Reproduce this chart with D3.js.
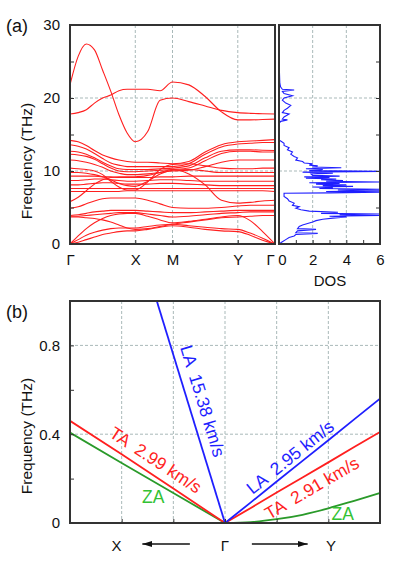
<!DOCTYPE html>
<html>
<head>
<meta charset="utf-8">
<script src="https://cdn.jsdelivr.net/npm/d3@7"></script>
<style>
  body { margin: 0; background: #fff; }
  svg { font-family: "Liberation Sans", Arial, sans-serif; }
</style>
</head>
<body>
<script>
// ---- panel (a): phonon bands along Γ-X-M-Y-Γ ----
const kPoints = [0, 0.125, 0.25, 0.375, 0.5, 0.625, 0.75, 0.875, 1, 1.19, 1.38, 1.57, 1.82, 2.07, 2.32, 2.57, 2.76, 2.95, 3.14];
const kTicks = [0, 1, 1.57, 2.57, 3.14];
const kTickLabels = ["Γ", "X", "M", "Y", "Γ"];

const bands = [
  [21.8, 25.7, 27.4, 26.6, 23.8, 20.9, 17.7, 15.2, 14.0, 15.4, 19.7, 20.0, 19.5, 18.9, 18.3, 18.0, 17.9, 17.85, 17.8],
  [17.8, 18.0, 18.4, 19.3, 20.0, 20.4, 21.0, 21.2, 21.2, 21.2, 21.0, 22.2, 21.8, 20.2, 18.1, 17.0, 17.0, 17.05, 17.1],
  [14.2, 14.0, 13.5, 12.8, 12.2, 11.8, 11.5, 11.3, 11.2, 11.2, 11.1, 11.0, 11.3, 12.6, 13.6, 14.0, 14.1, 14.2, 14.3],
  [13.6, 13.4, 13.0, 12.4, 11.7, 11.1, 10.8, 10.6, 10.6, 10.6, 10.6, 10.6, 11.0, 12.3, 13.3, 13.7, 13.8, 13.9, 13.9],
  [12.7, 12.6, 12.3, 11.8, 11.2, 10.7, 10.3, 10.2, 10.2, 10.2, 10.3, 10.4, 10.7, 11.8, 12.7, 12.9, 12.9, 12.85, 12.8],
  [12.3, 12.2, 12.0, 11.6, 11.0, 10.4, 10.0, 9.9, 9.9, 10.0, 10.1, 10.2, 10.4, 11.4, 12.4, 12.7, 12.7, 12.6, 12.6],
  [11.5, 11.4, 11.2, 10.9, 10.5, 10.0, 9.7, 9.5, 9.5, 9.6, 9.8, 10.0, 10.1, 10.6, 11.2, 11.5, 11.5, 11.5, 11.5],
  [10.4, 10.3, 10.2, 10.0, 9.5, 8.6, 7.8, 7.4, 7.4, 8.5, 10.2, 10.9, 11.0, 10.7, 10.4, 10.3, 10.3, 10.4, 10.4],
  [9.8, 9.8, 9.7, 9.5, 9.2, 8.8, 8.3, 8.0, 7.9, 8.6, 9.6, 10.1, 10.2, 10.0, 9.8, 9.8, 9.8, 9.8, 9.8],
  [9.3, 9.3, 9.3, 9.3, 9.2, 9.2, 9.1, 9.1, 9.1, 9.1, 9.2, 9.2, 9.3, 9.3, 9.3, 9.3, 9.3, 9.3, 9.3],
  [8.7, 8.7, 8.8, 8.9, 8.9, 8.8, 8.7, 8.6, 8.6, 8.7, 8.8, 8.8, 8.7, 8.6, 8.6, 8.6, 8.6, 8.6, 8.6],
  [8.1, 8.1, 8.2, 8.3, 8.4, 8.4, 8.3, 8.2, 8.2, 8.2, 8.3, 8.3, 8.2, 8.1, 8.0, 8.0, 8.0, 8.0, 8.0],
  [7.6, 7.6, 7.6, 7.6, 7.6, 7.6, 7.6, 7.6, 7.6, 7.6, 7.6, 7.6, 7.6, 7.6, 7.6, 7.6, 7.6, 7.6, 7.6],
  [7.2, 7.2, 7.2, 7.2, 7.2, 7.2, 7.2, 7.3, 7.3, 7.3, 7.3, 7.3, 7.3, 7.3, 7.3, 7.3, 7.3, 7.3, 7.2],
  [5.8, 6.4, 7.3, 8.2, 8.8, 9.1, 9.2, 9.2, 9.2, 9.4, 9.8, 10.2, 9.6, 8.1, 6.0, 5.6, 5.7, 5.9, 6.0],
  [4.9, 5.1, 5.5, 5.9, 6.2, 6.3, 6.3, 6.3, 6.3, 6.0, 5.5, 5.0, 4.9, 4.9, 5.0, 5.2, 5.3, 5.3, 5.3],
  [3.9, 4.0, 4.2, 4.4, 4.5, 4.6, 4.6, 4.6, 4.6, 4.5, 4.4, 4.3, 4.3, 4.4, 4.5, 4.6, 4.6, 4.6, 4.6],
  [3.8, 3.8, 3.9, 4.0, 4.1, 4.2, 4.3, 4.3, 4.3, 4.1, 3.9, 3.7, 3.8, 4.0, 4.2, 4.3, 4.4, 4.4, 4.4],
  [3.7, 3.7, 3.6, 3.5, 3.3, 3.0, 2.6, 2.2, 2.0, 2.1, 2.4, 2.7, 3.0, 3.3, 3.6, 3.7, 3.8, 3.9, 3.9],
  [0, 1.1, 2.1, 2.9, 3.5, 3.9, 4.1, 4.2, 4.2, 3.8, 3.3, 2.9, 3.1, 3.4, 3.7, 3.9, 3.2, 1.7, 0],
  [0, 0.6, 1.2, 1.6, 1.9, 2.1, 2.2, 2.2, 2.2, 2.4, 2.6, 2.7, 2.5, 2.3, 2.1, 2.0, 1.5, 0.8, 0],
  [0, 0.25, 0.6, 0.95, 1.3, 1.5, 1.7, 1.8, 1.8, 2.0, 2.3, 2.5, 2.3, 2.0, 1.8, 1.7, 1.2, 0.5, 0]
];

// density of states (frequency in THz, DOS)
const dosFreq = [0, 0.3, 0.6, 0.9, 1.1, 1.3, 1.45, 1.55, 1.8, 2.0, 2.1, 2.4, 2.6, 2.8, 3.0, 3.2, 3.4, 3.55, 3.7, 3.8,
  3.9, 4.0, 4.1, 4.2, 4.35, 4.5, 4.7, 4.9, 5.1, 5.3, 5.6, 5.9, 6.2, 6.5, 6.8, 6.95, 7.0, 7.1, 7.2, 7.3,
  7.4, 7.5, 7.6, 7.7, 7.8, 7.9, 8.0, 8.1, 8.2, 8.3, 8.4, 8.5, 8.6, 8.7, 8.8, 8.9, 9.0, 9.1, 9.2, 9.3,
  9.4, 9.6, 9.7, 9.85, 9.95, 10.05, 10.2, 10.3, 10.45, 10.55, 10.7, 10.8, 11.0, 11.1, 11.3, 11.5, 11.8, 12.0, 12.3, 12.6,
  12.9, 13.2, 13.5, 13.8, 14.1, 14.3, 15.0, 16.5, 16.8, 17.0, 17.1, 17.4, 17.8, 18.0, 18.3, 18.6, 19.0, 19.3, 19.7, 20.0,
  20.3, 20.6, 20.9, 21.1, 21.2, 21.5, 22.0, 24.0, 26.5];
const dosVal = [0, 0.2, 0.4, 0.6, 0.9, 1.0, 2.3, 1.0, 1.1, 2.2, 1.1, 1.2, 1.4, 1.7, 2.0, 2.2, 2.6, 3.2, 4.0, 3.0,
  6.0, 3.6, 6.0, 2.5, 3.5, 1.8, 1.3, 1.0, 1.2, 0.8, 0.9, 0.6, 0.5, 0.3, 0.3, 0.3, 3.0, 6.0, 2.8, 6.0,
  3.5, 6.0, 2.4, 3.2, 2.0, 4.4, 2.6, 4.0, 2.2, 3.6, 1.8, 6.0, 2.8, 3.8, 2.5, 3.4, 1.6, 3.0, 1.5, 3.6,
  2.0, 1.9, 3.2, 1.4, 6.0, 1.8, 2.6, 1.6, 3.7, 2.0, 2.3, 1.8, 2.0, 1.5, 1.4, 1.0, 1.1, 0.9, 0.7, 0.8,
  0.5, 0.6, 0.3, 0.3, 0.1, 0.0, 0.0, 0.0, 0.1, 0.5, 0.2, 0.3, 0.6, 0.2, 0.3, 0.5, 0.7, 0.4, 0.2, 0.3,
  0.8, 0.3, 0.2, 0.9, 0.2, 0.1, 0.05, 0.02, 0.0];

// ---- panel (b): acoustic branches near Γ ----
const kLeft = [-3, -2, -1, 0];
const taLeft = [0.46, 0.31, 0.155, 0];
const zaLeft = [0.407, 0.27, 0.135, 0];
const kLaLeft = [-1.32, 0];
const laLeft = [1.0, 0];
const kRight = [0, 0.5, 1, 1.5, 2, 2.5, 3];
const laRight = [0, 0.093, 0.187, 0.28, 0.373, 0.467, 0.56];
const taRight = [0, 0.068, 0.137, 0.205, 0.273, 0.342, 0.41];
const zaRight = [0, 0.004, 0.017, 0.037, 0.066, 0.1, 0.135];
const bYTicks = [0, 0.2, 0.4, 0.6, 0.8, 1.0];
const bYLabels = ["0", "", "0.4", "", "0.8", ""];
const bKLabels = ["X", "Γ", "Y"];
const bKLabelPos = [-2.1, 0, 2.05];

const RED = "#ff1f1f", BLUE = "#1f1fff", GREEN = "#2a9a2a", GREEN_TXT = "#33c233";
const GRID = "#a9b9b9", FRAME = "#333";

const svg = d3.select("body").append("svg").attr("width", 399).attr("height", 570);

// scales
const xBand = d3.scaleLinear().domain([0, 3.14]).range([70, 275]);
const yA = d3.scaleLinear().domain([0, 30]).range([244, 25]);
const xDos = d3.scaleLinear().domain([0, 6]).range([279, 380]);
const xB = d3.scaleLinear().domain([-3, 3]).range([70, 380]);
const yB = d3.scaleLinear().domain([0, 1]).range([523, 301]);

function styleAxis(g, size) {
  g.select(".domain").remove();
  g.selectAll(".tick line").attr("stroke", FRAME);
  g.attr("font-size", size).attr("font-family", "Liberation Sans, Arial, sans-serif").attr("fill", "#111");
  g.selectAll(".tick text").attr("fill", "#111");
}

function clip(id, x0, y0, x1, y1) {
  svg.append("clipPath").attr("id", id).append("rect")
    .attr("x", x0).attr("y", y0).attr("width", x1 - x0).attr("height", y1 - y0);
}

// ---------- panel (a) ----------
clip("clipBand", 70, 25, 275, 244);
clip("clipDos", 279, 25, 380, 244);

// grid
const gridA = svg.append("g").attr("stroke", GRID).attr("stroke-dasharray", "3,2").attr("stroke-width", 1);
[10, 20].forEach(f => {
  gridA.append("line").attr("x1", 70).attr("x2", 275).attr("y1", yA(f)).attr("y2", yA(f));
  gridA.append("line").attr("x1", 279).attr("x2", 380).attr("y1", yA(f)).attr("y2", yA(f));
});
kTicks.slice(1, 4).forEach(k => {
  gridA.append("line").attr("x1", xBand(k)).attr("x2", xBand(k)).attr("y1", 25).attr("y2", 244);
});
[2, 4].forEach(d => {
  gridA.append("line").attr("x1", xDos(d)).attr("x2", xDos(d)).attr("y1", 25).attr("y2", 244);
});

// bands
const bandLine = d3.line()
  .x((d, i) => xBand(kPoints[i]))
  .y(d => yA(d))
  .curve(d3.curveMonotoneX);
svg.append("g").attr("clip-path", "url(#clipBand)")
  .selectAll("path").data(bands).join("path")
  .attr("d", bandLine)
  .attr("fill", "none").attr("stroke", RED).attr("stroke-width", 1.1);

// DOS
const dosLine = d3.line()
  .x((d, i) => xDos(dosVal[i]))
  .y(d => yA(d));
svg.append("path").attr("clip-path", "url(#clipDos)")
  .datum(dosFreq)
  .attr("d", dosLine)
  .attr("fill", "none").attr("stroke", BLUE).attr("stroke-width", 1.1);

// axes (a)
svg.append("g").attr("transform", "translate(70,0)")
  .call(d3.axisLeft(yA).tickValues([0, 5, 10, 15, 20, 25, 30]).tickSize(-4).tickPadding(10)
    .tickFormat(d => d % 10 === 0 ? d : ""))
  .call(g => styleAxis(g, 15));

const bandAxis = svg.append("g").attr("transform", "translate(0,244)")
  .call(d3.axisBottom(xBand).tickValues(kTicks).tickSize(-4).tickPadding(10)
    .tickFormat((d, i) => kTickLabels[i]))
  .call(g => styleAxis(g, 15));
bandAxis.selectAll(".tick text").filter((d, i) => i === 4).attr("dx", -5);

const dosAxis = svg.append("g").attr("transform", "translate(0,244)")
  .call(d3.axisBottom(xDos).tickValues([0, 1, 2, 3, 4, 5, 6]).tickSize(-4).tickPadding(10)
    .tickFormat(d => d % 2 === 0 ? d : ""))
  .call(g => styleAxis(g, 15));
dosAxis.selectAll(".tick text").filter(d => d === 0).attr("dx", 3);

svg.append("g").attr("transform", "translate(380,0)")
  .call(d3.axisRight(yA).tickValues([5, 10, 15, 20, 25]).tickSize(-4).tickFormat(""))
  .call(g => styleAxis(g, 15));

// frames (a)
svg.append("rect").attr("x", 70).attr("y", 25).attr("width", 205).attr("height", 219)
  .attr("fill", "none").attr("stroke", FRAME).attr("stroke-width", 2);
svg.append("rect").attr("x", 279).attr("y", 25).attr("width", 101).attr("height", 219)
  .attr("fill", "none").attr("stroke", FRAME).attr("stroke-width", 2);

svg.append("text").attr("x", 330).attr("y", 286).attr("text-anchor", "middle")
  .attr("font-size", 15).attr("fill", "#111").text("DOS");
svg.append("text").attr("transform", "translate(32,161) rotate(-90)").attr("text-anchor", "middle")
  .attr("font-size", 15.5).attr("fill", "#111").text("Frequency (THz)");
svg.append("text").attr("x", 6).attr("y", 32).attr("font-size", 18).attr("fill", "#111").text("(a)");

// ---------- panel (b) ----------
clip("clipB", 70, 301, 380, 523);

const gridB = svg.append("g").attr("stroke", GRID).attr("stroke-dasharray", "3,2").attr("stroke-width", 1);
[-2, -1, 0, 1, 2].forEach(k => {
  gridB.append("line").attr("x1", xB(k)).attr("x2", xB(k)).attr("y1", 301).attr("y2", 523);
});
[0.4, 0.8].forEach(f => {
  gridB.append("line").attr("x1", 70).attr("x2", 380).attr("y1", yB(f)).attr("y2", yB(f));
});

const branches = [
  { k: kLeft, f: zaLeft, color: GREEN },
  { k: kRight, f: zaRight, color: GREEN, curve: true },
  { k: kLeft, f: taLeft, color: RED },
  { k: kRight, f: taRight, color: RED },
  { k: kLaLeft, f: laLeft, color: BLUE },
  { k: kRight, f: laRight, color: BLUE }
];
const gB = svg.append("g").attr("clip-path", "url(#clipB)");
branches.forEach(b => {
  const line = d3.line()
    .x((d, i) => xB(b.k[i]))
    .y(d => yB(d))
    .curve(b.curve ? d3.curveMonotoneX : d3.curveLinear);
  gB.append("path").datum(b.f).attr("d", line)
    .attr("fill", "none").attr("stroke", b.color).attr("stroke-width", 1.8);
});

// branch labels, angle taken from each branch's end points in pixel space
function angleOf(k, f) {
  const n = k.length - 1;
  return Math.atan2(yB(f[n]) - yB(f[0]), xB(k[n]) - xB(k[0])) * 180 / Math.PI;
}
const branchLabels = [
  { text: "LA  15.38 km/s", color: BLUE, k: -0.43, f: 0.55, angle: angleOf(kLaLeft, laLeft) },
  { text: "TA  2.99 km/s", color: RED, k: -1.34, f: 0.284, angle: angleOf(kLeft, taLeft) },
  { text: "ZA", color: GREEN_TXT, k: -1.39, f: 0.117, angle: 0 },
  { text: "LA  2.95 km/s", color: BLUE, k: 1.26, f: 0.297, angle: angleOf(kRight, laRight) },
  { text: "TA  2.91 km/s", color: RED, k: 1.68, f: 0.158, angle: angleOf(kRight, taRight) },
  { text: "ZA", color: GREEN_TXT, k: 2.28, f: 0.04, angle: 0 }
];
branchLabels.forEach(l => {
  svg.append("text")
    .attr("transform", `translate(${xB(l.k)},${yB(l.f)}) rotate(${l.angle})`)
    .attr("text-anchor", "middle").attr("dy", "0.35em")
    .attr("font-size", 17.5).attr("fill", l.color)
    .style("white-space", "pre")
    .text(l.text);
});

// axes (b)
svg.append("g").attr("transform", "translate(70,0)")
  .call(d3.axisLeft(yB).tickValues(bYTicks).tickSize(-4).tickPadding(10)
    .tickFormat((d, i) => bYLabels[i]))
  .call(g => styleAxis(g, 15));
svg.append("g").attr("transform", "translate(0,523)")
  .call(d3.axisBottom(xB).tickValues([-2, -1, 0, 1, 2]).tickSize(-4).tickFormat(""))
  .call(g => styleAxis(g, 15));

svg.append("rect").attr("x", 70).attr("y", 301).attr("width", 310).attr("height", 222)
  .attr("fill", "none").attr("stroke", FRAME).attr("stroke-width", 2);

bKLabels.forEach((t, i) => {
  svg.append("text").attr("x", xB(bKLabelPos[i])).attr("y", 551).attr("text-anchor", "middle")
    .attr("font-size", 15).attr("fill", "#111").text(t);
});

// direction arrows
svg.append("defs").append("marker").attr("id", "arrow")
  .attr("viewBox", "0 0 10 6").attr("refX", 10).attr("refY", 3)
  .attr("markerWidth", 10).attr("markerHeight", 6).attr("markerUnits", "userSpaceOnUse")
  .attr("orient", "auto")
  .append("path").attr("d", "M0,0L10,3L0,6Z").attr("fill", "#111");
[[-0.68, -1.6], [0.52, 1.6]].forEach(a => {
  svg.append("line").attr("x1", xB(a[0])).attr("x2", xB(a[1])).attr("y1", 544).attr("y2", 544)
    .attr("stroke", "#111").attr("stroke-width", 1.3).attr("marker-end", "url(#arrow)");
});

svg.append("text").attr("transform", "translate(32,436) rotate(-90)").attr("text-anchor", "middle")
  .attr("font-size", 15.5).attr("fill", "#111").text("Frequency (THz)");
svg.append("text").attr("x", 6).attr("y", 318).attr("font-size", 18).attr("fill", "#111").text("(b)");
</script>
</body>
</html>
